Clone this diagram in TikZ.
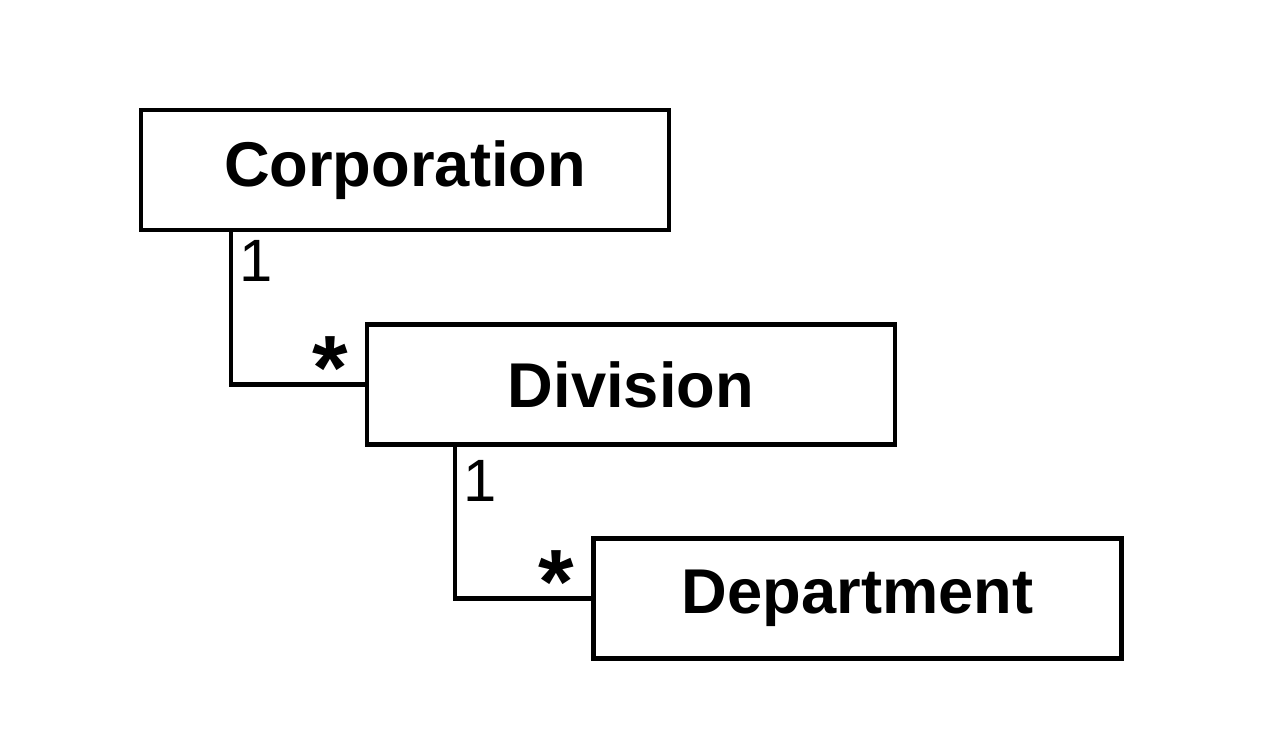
\documentclass[tikz,border=0pt]{standalone}
\usepackage{fontspec}
\setmainfont{Liberation Sans}
\usetikzlibrary{positioning,calc}

\begin{document}
\begin{tikzpicture}[
  cls/.style={draw, rectangle, line width=1.2pt, minimum width=5.28cm, minimum height=1.2cm, font=\fontsize{18}{20}\selectfont\bfseries},
  link/.style={line width=1.2pt},
  mult/.style={font=\fontsize{17}{19}\selectfont, inner sep=0pt},
  many/.style={font=\fontsize{26}{28}\selectfont\bfseries, inner sep=0pt}
]
  \useasboundingbox (0,0) rectangle (12.86,7.42);
  % Classes
  \node[cls] (corp) at (4.05,5.72) {Corporation};
  \node[cls] (div) at (6.31,3.575) {Division};
  \node[cls] (dept) at (8.575,1.435) {Department};

  % Associations
  \coordinate (c1) at ($(corp.south west)+(0.92,0)$);
  \coordinate (c2) at ($(div.south west)+(0.90,0)$);
  \draw[link] (c1) |- (div.west);
  \draw[link] (c2) |- (dept.west);

  % Multiplicities
  \node[mult] at ($(c1)+(0.25,-0.29)$) {1};
  \node[many] at ($(div.west)+(-0.35,0.16)$) {*};
  \node[mult] at ($(c2)+(0.25,-0.34)$) {1};
  \node[many] at ($(dept.west)+(-0.35,0.16)$) {*};
\end{tikzpicture}
\end{document}
